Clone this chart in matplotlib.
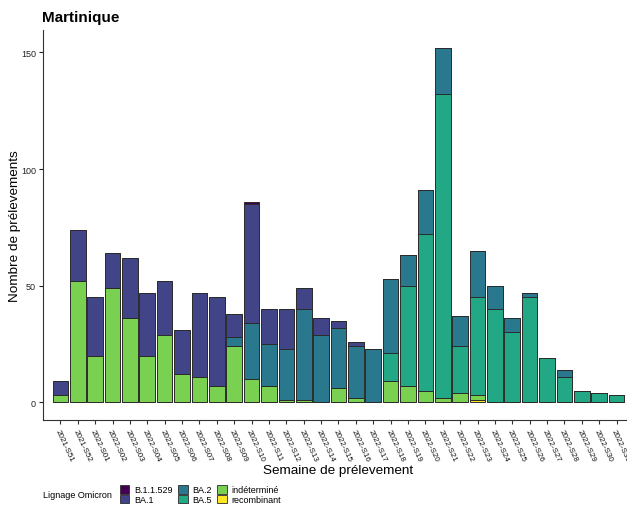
import numpy as np
from matplotlib import pyplot as plt
from matplotlib.patches import Patch

plt.rcParams['font.family'] = ['Liberation Sans', 'DejaVu Sans']

# weeks on x axis
semaines = ['2021-S51', '2021-S52'] + ['2022-S%02d' % i for i in range(1, 32)]

# counts per lineage
b11529 = [0, 0, 0, 0, 0, 0, 0, 0, 0, 0, 0, 1, 0, 0, 0, 0, 0,
          0, 0, 0, 0, 0, 0, 0, 0, 0, 0, 0, 0, 0, 0, 0, 0]
ba1 = [6, 22, 25, 15, 26, 27, 23, 19, 36, 38, 10, 51, 15, 17, 9, 7, 3,
       2, 0, 0, 0, 0, 0, 0, 0, 0, 0, 0, 0, 0, 0, 0, 0]
ba2 = [0, 0, 0, 0, 0, 0, 0, 0, 0, 0, 4, 24, 18, 22, 39, 29, 26,
       22, 23, 32, 13, 19, 20, 13, 20, 10, 6, 2, 0, 3, 0, 0, 0]
ba5 = [0, 0, 0, 0, 0, 0, 0, 0, 0, 0, 0, 0, 0, 0, 0, 0, 0,
       0, 0, 12, 43, 67, 130, 20, 42, 40, 30, 45, 19, 11, 5, 4, 3]
indet = [3, 52, 20, 49, 36, 20, 29, 12, 11, 7, 24, 10, 7, 1, 1, 0, 6,
         2, 0, 9, 7, 5, 2, 4, 2, 0, 0, 0, 0, 0, 0, 0, 0]
recomb = [0, 0, 0, 0, 0, 0, 0, 0, 0, 0, 0, 0, 0, 0, 0, 0, 0,
          0, 0, 0, 0, 0, 0, 0, 1, 0, 0, 0, 0, 0, 0, 0, 0]

lignages = ['B.1.1.529', 'BA.1', 'BA.2', 'BA.5', 'indéterminé', 'recombinant']
couleurs = ['#440154', '#414487', '#2A788E', '#22A884', '#7AD151', '#FDE725']
series = [b11529, ba1, ba2, ba5, indet, recomb]

fig = plt.figure(figsize=(6.27, 5.06), dpi=100)
ax = fig.add_axes([43 / 627, 85 / 506, 584 / 627, 390 / 506])

x = np.arange(len(semaines))
bottom = np.zeros(len(semaines))
# stack from bottom: recombinant first, B.1.1.529 on top
for vals, col in reversed(list(zip(series, couleurs))):
    vals = np.array(vals, dtype=float)
    ax.bar(x, vals, width=0.9, bottom=bottom, color=col,
           edgecolor='#2b2b2b', linewidth=0.7)
    bottom += vals

ax.set_xlim(-1.0, 32.6)
ax.set_ylim(-7.6, 159.6)
ax.set_yticks([0, 50, 100, 150])
ax.set_xticks(x)
ax.set_xticklabels(semaines, rotation=-65, ha='left', va='top',
                   rotation_mode='anchor', fontsize=5.8, color='#111111')
ax.tick_params(axis='y', labelsize=6.5, colors='#222222', length=3, pad=2)
ax.tick_params(axis='x', length=3, color='#333333', pad=3)
for s in ['top', 'right']:
    ax.spines[s].set_visible(False)
for s in ['left', 'bottom']:
    ax.spines[s].set_color('#333333')
    ax.spines[s].set_linewidth(0.8)

ax.set_ylabel('Nombre de prélevements', fontsize=9.7)
ax.yaxis.set_label_coords(-22 / 584, 0.5)
ax.set_xlabel('Semaine de prélevement', fontsize=9.7)
ax.xaxis.set_label_coords((338 - 43) / 584, -(465 - 421) / 390)
fig.text(42 / 627, 1 - 18 / 506, 'Martinique', fontsize=11,
         fontweight='bold', ha='left', va='center')

# legend
fig.text(43 / 627, 1 - 496 / 506, 'Lignage Omicron', fontsize=6.5,
         ha='left', va='center')
handles = [Patch(facecolor=c, edgecolor='#2b2b2b', linewidth=0.6, label=l)
           for c, l in zip(couleurs, lignages)]
fig.legend(handles=handles, ncol=3, frameon=False, fontsize=6.5,
           loc='center left', bbox_to_anchor=(115 / 627, 1 - 495.5 / 506),
           handlelength=1.1, handleheight=1.1, handletextpad=0.5,
           columnspacing=0.6, labelspacing=0.0, borderpad=0)

fig.savefig('out.png', dpi=100)
